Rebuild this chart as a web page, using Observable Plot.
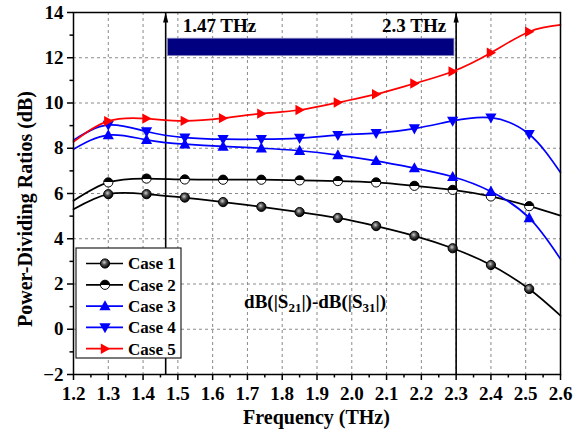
<!DOCTYPE html>
<html><head><meta charset="utf-8">
<script src="https://cdn.jsdelivr.net/npm/d3@7"></script>
<script src="https://cdn.jsdelivr.net/npm/@observablehq/plot@0.6"></script>
<style>
body{margin:0;background:#fff;}
#wrap{position:relative;width:580px;height:434px;}
</style></head><body><div id="wrap"></div>
<script>
// ---- data ----
const freq  = [1.2, 1.3, 1.41, 1.52, 1.63, 1.74, 1.85, 1.96, 2.07, 2.18, 2.29, 2.40, 2.51, 2.6];
const case1 = [5.30, 5.97, 5.97, 5.82, 5.62, 5.41, 5.18, 4.92, 4.56, 4.13, 3.58, 2.84, 1.78, 0.60];
const case2 = [5.68, 6.49, 6.66, 6.62, 6.61, 6.61, 6.58, 6.55, 6.49, 6.34, 6.16, 5.87, 5.44, 5.02];
const case3 = [7.96, 8.58, 8.37, 8.18, 8.08, 8.00, 7.89, 7.70, 7.44, 7.12, 6.74, 6.09, 4.92, 3.10];
const case4 = [8.36, 9.03, 8.74, 8.47, 8.40, 8.40, 8.45, 8.58, 8.67, 8.87, 9.21, 9.35, 8.62, 6.93];
const case5 = [8.28, 9.20, 9.31, 9.21, 9.33, 9.53, 9.69, 10.02, 10.39, 10.86, 11.39, 12.22, 13.15, 13.45];
const caseNames = ["Case 1", "Case 2", "Case 3", "Case 4", "Case 5"];
const markerIndex = [1, 2, 3, 4, 5, 6, 7, 8, 9, 10, 11, 12];

const xTicks = [1.2, 1.3, 1.4, 1.5, 1.6, 1.7, 1.8, 1.9, 2.0, 2.1, 2.2, 2.3, 2.4, 2.5, 2.6];
const xMinor = [1.25, 1.35, 1.45, 1.55, 1.65, 1.75, 1.85, 1.95, 2.05, 2.15, 2.25, 2.35, 2.45, 2.55];
const xGrid  = [1.3, 1.4, 1.5, 1.6, 1.7, 1.8, 1.9, 2.0, 2.1, 2.2, 2.3, 2.4, 2.5];
const yTicks = [-2, 0, 2, 4, 6, 8, 10, 12, 14];
const yMinor = [-1, 1, 3, 5, 7, 9, 11, 13];
const yGrid  = [0, 2, 4, 6, 8, 10, 12];

const edgeFreq = [1.465, 2.3];          // vertical arrow lines
const edgeLabels = ["1.47 THz", "2.3 THz"];
const bandFreq = [1.472, 2.295];        // navy band
const bandLevel = [12.08, 12.84];
const noteText = "dB(|S21|)-dB(|S31|)";
const notePos = [1.896, 1.19];

// ---- symbols ----
const rad = s => Math.sqrt(s / Math.PI);
const symUp = {draw(c, s){const r = rad(s); c.moveTo(0, -r*1.05); c.lineTo(r, r*0.75); c.lineTo(-r, r*0.75); c.closePath();}};
const symDown = {draw(c, s){const r = rad(s); c.moveTo(0, r*1.05); c.lineTo(r, -r*0.75); c.lineTo(-r, -r*0.75); c.closePath();}};
const symRight = {draw(c, s){const r = rad(s); c.moveTo(r*1.0, 0); c.lineTo(-r*0.8, -r); c.lineTo(-r*0.8, r); c.closePath();}};
const symCircle = {draw(c, s){const r = rad(s); c.moveTo(r, 0); c.arc(0, 0, r, 0, 2*Math.PI);}};
const symArrow = {draw(c, s){c.moveTo(0, 0); c.lineTo(2.6, 10); c.lineTo(-2.6, 10); c.closePath();}};

const values = [case1, case2, case3, case4, case5];
const styles = [
  {color: "#000", symbol: symCircle, fill: "url(#ball)", stroke: "#000", r: 4.6},
  {color: "#000", symbol: symCircle, fill: "url(#half)", stroke: "#000", r: 4.6},
  {color: "#0000ff", symbol: symUp, fill: "#0000ff", stroke: "none", r: 5.6},
  {color: "#0000ff", symbol: symDown, fill: "#0000ff", stroke: "none", r: 5.6},
  {color: "#ff0000", symbol: symRight, fill: "#ff0000", stroke: "none", r: 5.2}
];
const rows = caseNames.map((name, k) => freq.map((f, i) => ({name, f, v: values[k][i], i})));

const font = "'Liberation Serif','Times New Roman',serif";
const marks = [
  Plot.gridX(xGrid, {stroke: "#8a8a8a", strokeOpacity: 1, strokeDasharray: "3,3", strokeWidth: 1}),
  Plot.gridY(yGrid, {stroke: "#8a8a8a", strokeOpacity: 1, strokeDasharray: "3,3", strokeWidth: 1}),
  Plot.axisX({ticks: xTicks, tickSize: 6, tickPadding: 6, tickFormat: d3.format(".1f"), label: null, strokeWidth: 1.5, fontSize: 19}),
  Plot.axisX({ticks: xMinor, tickSize: 3.5, tickFormat: () => "", label: null, strokeWidth: 1.5}),
  Plot.axisY({ticks: yTicks, tickSize: 6, tickPadding: 4, tickFormat: d3.format("d"), label: null, strokeWidth: 1.5, fontSize: 19}),
  Plot.axisY({ticks: yMinor, tickSize: 3.5, tickFormat: () => "", label: null, strokeWidth: 1.5}),
  Plot.rect([0], {x1: bandFreq[0], x2: bandFreq[1], y1: bandLevel[0], y2: bandLevel[1], fill: "#000080", stroke: "#7a7ab8", strokeWidth: 0.8}),
  Plot.ruleX(edgeFreq, {y1: -2, y2: 14, stroke: "#000", strokeWidth: 1.6}),
  Plot.dot(edgeFreq, {x: d => d, y: 14, symbol: symArrow, fill: "#000", stroke: "none", r: 3}),
  Plot.text([edgeLabels[0]], {x: edgeFreq[0], y: 13.4, text: d => d, textAnchor: "start", dx: 17, fontSize: 19, fontWeight: "bold", fill: "#000"}),
  Plot.text([edgeLabels[1]], {x: edgeFreq[1], y: 13.4, text: d => d, textAnchor: "end", dx: -10, fontSize: 19, fontWeight: "bold", fill: "#000"})
];
rows.forEach((data, k) => {
  const s = styles[k];
  marks.push(Plot.line(data, {x: "f", y: "v", stroke: s.color, strokeWidth: 1.7, curve: "natural"}));
  marks.push(Plot.dot(data.filter(d => markerIndex.includes(d.i)), {x: "f", y: "v", symbol: s.symbol, r: s.r, fill: s.fill, stroke: s.stroke, strokeWidth: 1}));
});
marks.push(Plot.frame({stroke: "#000", strokeWidth: 1.5}));

const chart = Plot.plot({
  width: 580, height: 434,
  marginLeft: 73, marginRight: 20, marginTop: 12, marginBottom: 60,
  x: {domain: [1.2, 2.6], axis: null},
  y: {domain: [-2, 14], axis: null},
  style: {fontFamily: font, fontWeight: "bold", fontSize: "19px", color: "#000", background: "#fff"},
  marks
});
document.getElementById("wrap").appendChild(chart);

const svg = d3.select(chart);
const defs = svg.insert("defs", ":first-child");
const ball = defs.append("radialGradient").attr("id", "ball").attr("cx", 0.42).attr("cy", 0.38).attr("r", 0.6);
ball.append("stop").attr("offset", 0).attr("stop-color", "#d0d0d0");
ball.append("stop").attr("offset", 0.45).attr("stop-color", "#505050");
ball.append("stop").attr("offset", 1).attr("stop-color", "#000");
const half = defs.append("linearGradient").attr("id", "half").attr("x1", 0).attr("y1", 0).attr("x2", 0).attr("y2", 1);
half.append("stop").attr("offset", 0.5).attr("stop-color", "#000");
half.append("stop").attr("offset", 0.5).attr("stop-color", "#fff");

const sx = chart.scale("x"), sy = chart.scale("y");
// note text with subscripts
const nt = svg.append("text").attr("x", sx.apply(notePos[0])).attr("y", sy.apply(notePos[1]))
  .attr("dy", "0.35em").attr("text-anchor", "middle").attr("font-family", font).attr("font-weight", "bold").attr("font-size", 19);
const parts = noteText.match(/\d+|[^\d]+/g);
parts.forEach(p => {
  if (/^\d+$/.test(p)) nt.append("tspan").attr("font-size", 13).attr("baseline-shift", "-30%").text(p);
  else nt.append("tspan").text(p);
});
// axis titles
const xr = sx.range;
svg.append("text").attr("x", (xr[0] + xr[1]) / 2).attr("y", 424).attr("text-anchor", "middle")
  .attr("font-family", font).attr("font-weight", "bold").attr("font-size", 20).text("Frequency (THz)");
svg.append("text").attr("transform", "translate(32,209) rotate(-90)").attr("text-anchor", "middle")
  .attr("font-family", font).attr("font-weight", "bold").attr("font-size", 20).text("Power-Dividing Ratios (dB)");

// legend
const lg = svg.append("g").attr("transform", "translate(76,248)");
lg.append("rect").attr("width", 105).attr("height", 110).attr("fill", "#fff").attr("stroke", "#222").attr("stroke-width", 1.2);
caseNames.forEach((name, i) => {
  const s = styles[i];
  const g = lg.append("g").attr("transform", `translate(0,${15.5 + i * 21.3})`);
  g.append("line").attr("x1", 10).attr("x2", 47).attr("stroke", s.color).attr("stroke-width", 1.7);
  g.append("path").attr("transform", "translate(29,0)")
    .attr("d", d3.symbol(s.symbol, Math.PI * s.r * s.r)())
    .attr("fill", s.fill).attr("stroke", s.stroke);
  g.append("text").attr("x", 52).attr("dy", "0.35em").attr("text-anchor", "start").attr("font-family", font).attr("font-weight", "bold")
    .attr("font-size", 17).text(name);
});
</script></body></html>
